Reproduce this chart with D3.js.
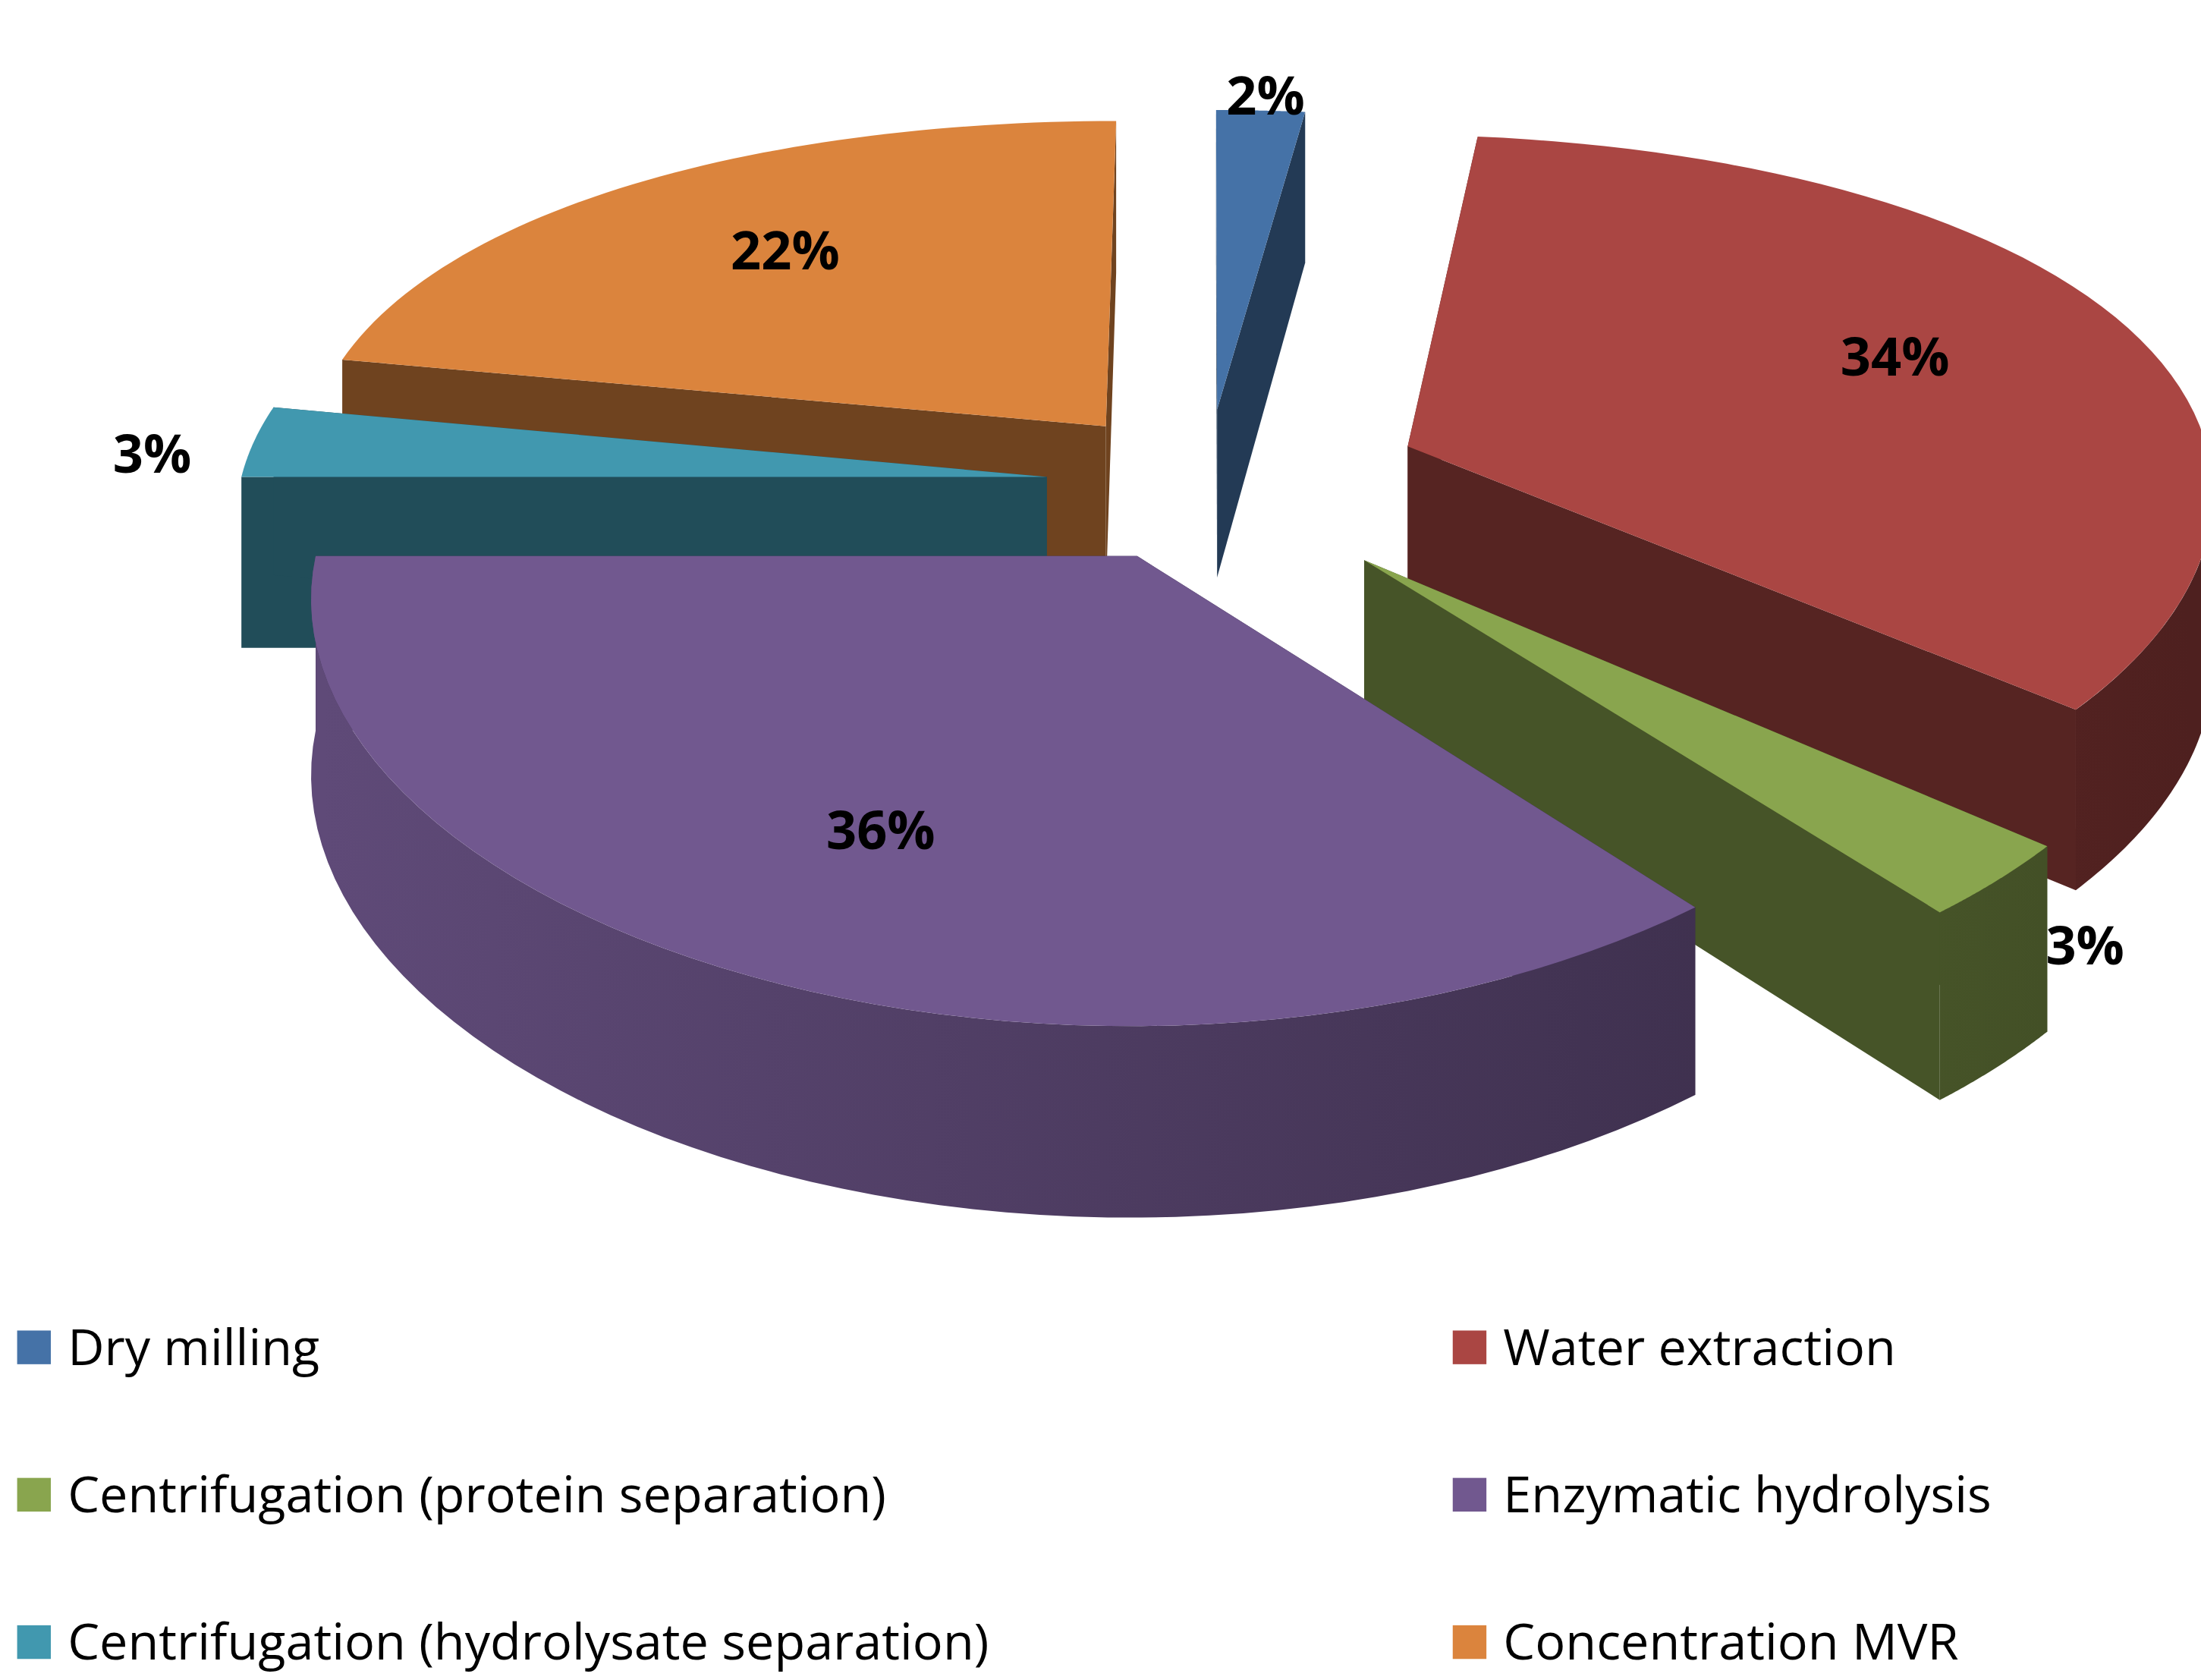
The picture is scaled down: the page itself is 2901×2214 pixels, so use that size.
<!DOCTYPE html>
<html><head><meta charset="utf-8">
<script src="https://cdn.jsdelivr.net/npm/d3@7"></script>
<style>body{margin:0;background:#fff}</style>
</head><body>
<svg id="chart" width="2901" height="2214"></svg>
<script>
const categories = ["Dry milling", "Water extraction", "Centrifugation (protein separation)",
  "Enzymatic hydrolysis", "Centrifugation (hydrolysate separation)", "Concentration MVR"];
const values = [2, 34, 3, 36, 3, 22];
const colors = ["#4572A7", "#AA4643", "#89A54E", "#71588F", "#4198AF", "#DB843D"];
const explode = [0.2, 0.27, 0.27, 0.2, 0.2, 0.2];

const W = 1568, H = 1197;
const svg = d3.select("#chart").attr("viewBox", [0, 0, W, H]);
const cx = 860, cy = 345, rx = 575, ry = 275, depth = 122;

// rough perspective: near side bigger
function project(x, z, h) {
  const w = 1 + 0.1 * z;
  return [cx + rx * x * w, cy + ry * z * (1 + 0.16 * z) + h * depth * w];
}

const pie = d3.pie().sort(null).startAngle(3 * Math.PI / 2).endAngle(3 * Math.PI / 2 + 2 * Math.PI);
const arcs = pie(values).map((d, i) => {
  const a0 = d.startAngle, a1 = d.endAngle, mid = (a0 + a1) / 2;
  return {i, a0, a1, mid, ox: explode[i] * Math.cos(mid), oz: explode[i] * Math.sin(mid)};
});

const defs = svg.append("defs");
arcs.forEach(s => {
  const g = defs.append("linearGradient").attr("id", "wall" + s.i)
    .attr("gradientUnits", "userSpaceOnUse").attr("x1", 230).attr("x2", 1560).attr("y1", 0).attr("y2", 0);
  g.append("stop").attr("offset", 0).attr("stop-color", d3.color(colors[s.i]).darker(0.5));
  g.append("stop").attr("offset", 1).attr("stop-color", d3.color(colors[s.i]).darker(2.2));
});

const line = d3.line();
function arcPts(s, h, b0, b1) {
  const n = 60, pts = [];
  for (let k = 0; k <= n; k++) {
    const a = b0 + (b1 - b0) * k / n;
    pts.push(project(s.ox + Math.cos(a), s.oz + Math.sin(a), h));
  }
  return pts;
}

// front-facing part of an arc (sin > 0), angles may exceed 2π
function frontRange(s) {
  for (const off of [0, 2 * Math.PI, -2 * Math.PI]) {
    const b0 = Math.max(s.a0, off), b1 = Math.min(s.a1, off + Math.PI);
    if (b1 > b0) return [b0, b1];
  }
  return null;
}

const order = arcs.slice().sort((a, b) => Math.sin(a.mid) - Math.sin(b.mid));
const g = svg.append("g");
order.forEach(s => {
  const apexT = project(s.ox, s.oz, 0), apexB = project(s.ox, s.oz, 1);
  const side = d3.color(colors[s.i]).darker(1.9);
  [s.a0, s.a1].forEach(a => {
    const eT = project(s.ox + Math.cos(a), s.oz + Math.sin(a), 0);
    const eB = project(s.ox + Math.cos(a), s.oz + Math.sin(a), 1);
    g.append("path").attr("d", line([apexT, eT, eB, apexB]) + "Z").attr("fill", side);
  });
  const fr = frontRange(s);
  if (fr) {
    const top = arcPts(s, 0, fr[0], fr[1]), bot = arcPts(s, 1, fr[0], fr[1]);
    g.append("path").attr("d", line(top.concat(bot.reverse())) + "Z").attr("fill", `url(#wall${s.i})`);
  }
  g.append("path").attr("d", line([apexT].concat(arcPts(s, 0, s.a0, s.a1))) + "Z").attr("fill", colors[s.i]);
});

// percentage labels
arcs.forEach(s => {
  const big = values[s.i] > 10;
  const r = big ? 0.68 : 1.13;
  const [x, y] = project(s.ox + r * Math.cos(s.mid), s.oz + r * Math.sin(s.mid), big ? 0 : 0.1);
  svg.append("text").attr("x", x).attr("y", y).attr("text-anchor", "middle").attr("dy", "0.35em")
    .attr("font-family", "'Open Sans', sans-serif").attr("font-weight", "bold").attr("font-size", 38)
    .text(values[s.i] + "%");
});

// legend
const lg = svg.append("g").attr("font-family", "'Open Sans', sans-serif").attr("font-size", 36);
categories.forEach((c, i) => {
  const x = i % 2 ? 1035 : 12, y = 960 + Math.floor(i / 2) * 105;
  lg.append("rect").attr("x", x).attr("y", y - 12).attr("width", 24).attr("height", 24).attr("fill", colors[i]);
  lg.append("text").attr("x", x + 36).attr("y", y).attr("dy", "0.35em").text(c);
});
</script>
</body></html>
